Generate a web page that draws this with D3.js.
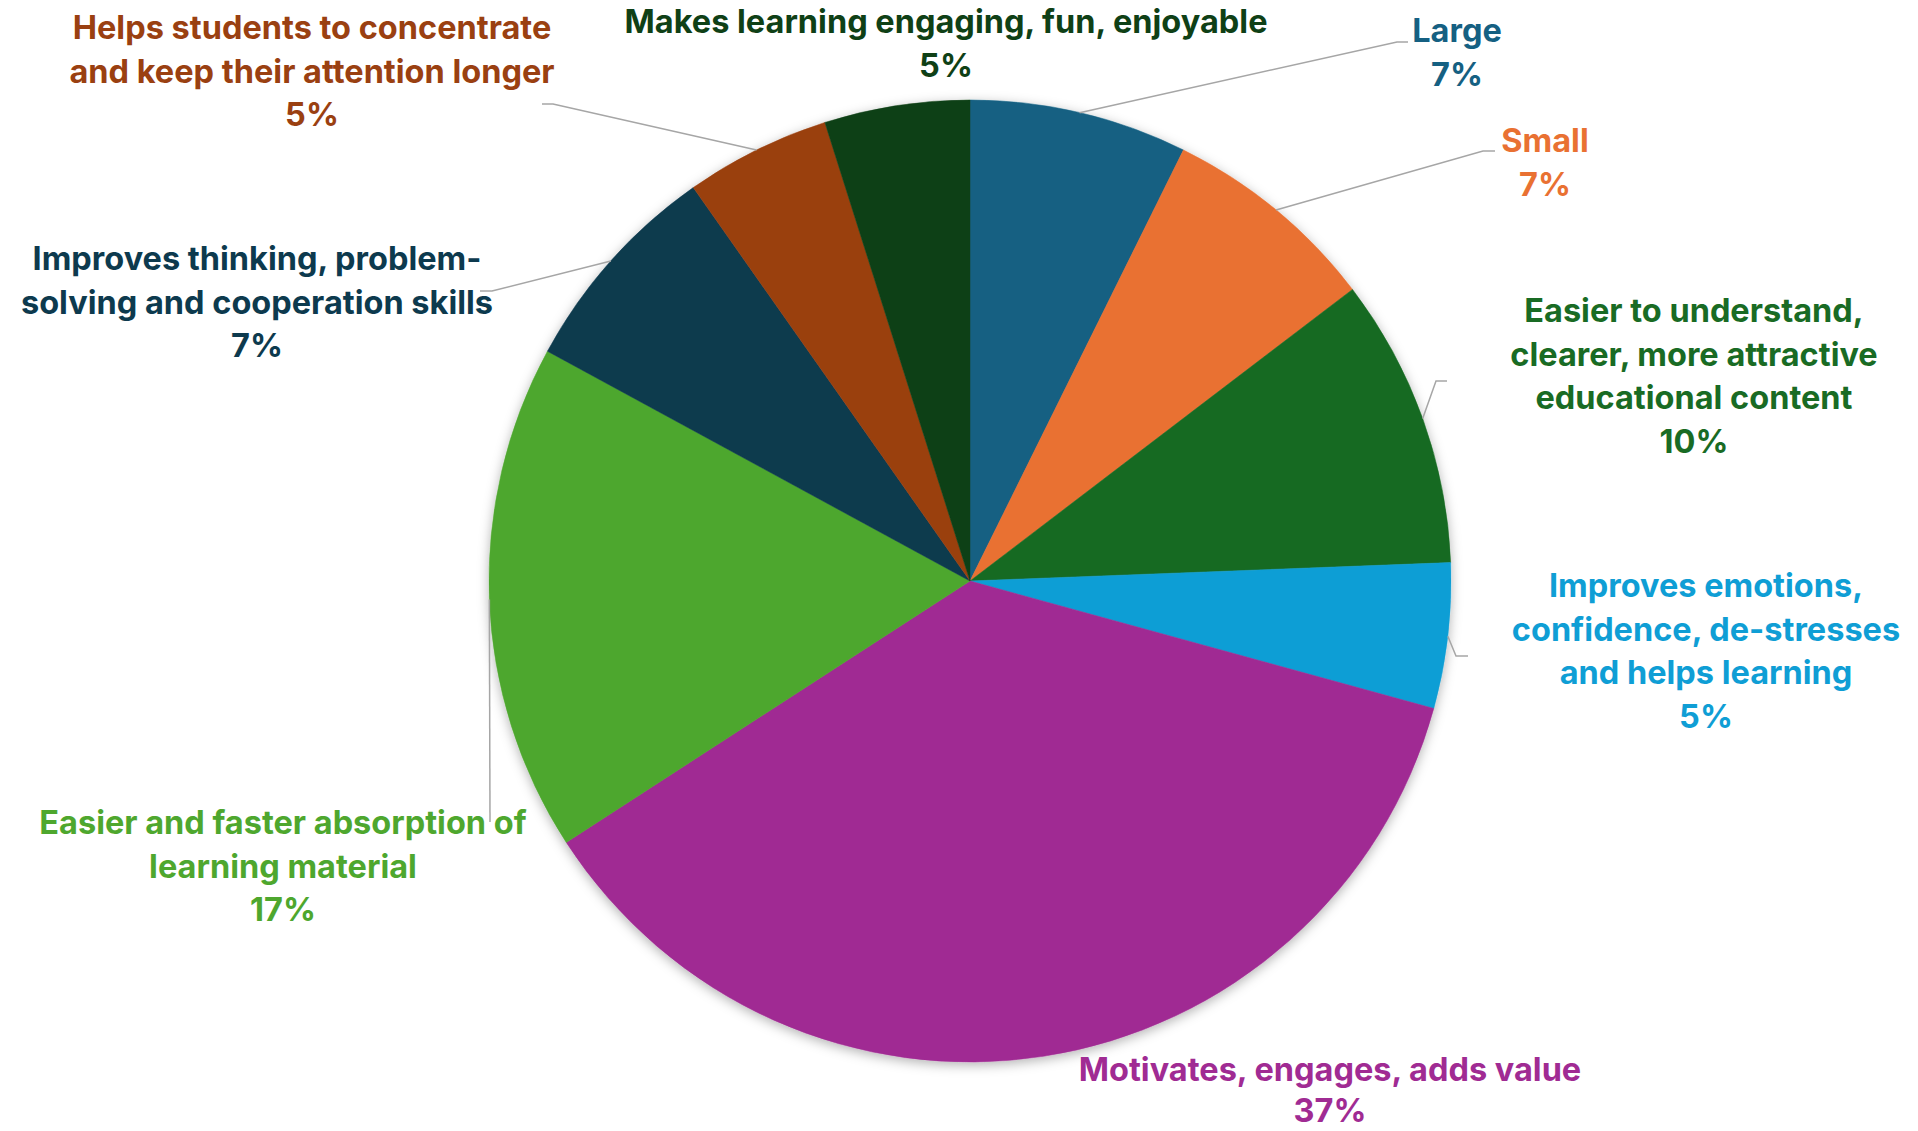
<!DOCTYPE html>
<html>
<head>
<meta charset="utf-8">
<script src="https://cdn.jsdelivr.net/npm/d3@7"></script>
<style>
  html, body { margin: 0; padding: 0; background: #ffffff; }
  svg { display: block; }
  .lbl { font-family: Inter, "Open Sans", sans-serif; font-weight: 700; font-size: 32.5px; }
</style>
</head>
<body>
<svg id="chart" width="1918" height="1131"></svg>
<script>
// Survey answers (number of mentions) in clockwise order from 12 o'clock
const categories = [
  "Large",
  "Small",
  "Easier to understand, clearer, more attractive educational content",
  "Improves emotions, confidence, de-stresses and helps learning",
  "Motivates, engages, adds value",
  "Easier and faster absorption of learning material",
  "Improves thinking, problem-solving and cooperation skills",
  "Helps students to concentrate and keep their attention longer",
  "Makes learning engaging, fun, enjoyable"
];
const counts = [3, 3, 4, 2, 15, 7, 3, 2, 2];

// Wrapped label text, one array of lines per category
const labelLines = [
  ["Large"],
  ["Small"],
  ["Easier to understand,", "clearer, more attractive", "educational content"],
  ["Improves emotions,", "confidence, de-stresses", "and helps learning"],
  ["Motivates, engages, adds value"],
  ["Easier and faster absorption of", "learning material"],
  ["Improves thinking, problem-", "solving and cooperation skills"],
  ["Helps students to concentrate", "and keep their attention longer"],
  ["Makes learning engaging, fun, enjoyable"]
];

// Slice / label colours (Office accent palette and its darker shades)
const palette = ["#156082", "#E97132", "#196B24", "#0F9ED5", "#A02B93",
                 "#4EA72E", "#0D3A4E", "#9A4011", "#0F4016"];

// Label placement: text centre x, first baseline y, and leader path (elbow, end)
const labelLayout = [
  { x: 1457, y: 42,  leader: [[1397, 42], [1408, 42]] },
  { x: 1545, y: 152, leader: [[1483, 151], [1495, 151]] },
  { x: 1694, y: 322, leader: [[1436, 381], [1447, 381]] },
  { x: 1706, y: 597, leader: [[1456, 656], [1468, 656]] },
  { x: 1330, y: 1081, leader: null, step: 41 },
  { x: 283,  y: 834, leader: [[490, 822]] },
  { x: 257,  y: 270, leader: [[492, 291], [480, 291]] },
  { x: 312,  y: 39,  leader: [[553, 104], [542, 104]] },
  { x: 946,  y: 33,  leader: null }
];

const cx = 970, cy = 581, radius = 481, lineStep = 43.5;

const svg = d3.select("#chart");
const defs = svg.append("defs");
const shadow = defs.append("filter").attr("id", "pieShadow")
  .attr("x", "-10%").attr("y", "-10%").attr("width", "120%").attr("height", "120%");
shadow.append("feDropShadow").attr("dx", 0).attr("dy", 3)
  .attr("stdDeviation", 6).attr("flood-color", "#000").attr("flood-opacity", 0.3);

const total = d3.sum(counts);
const pct = d3.format(".0%");

const pie = d3.pie().sort(null).value(d => d.count);
const arc = d3.arc().innerRadius(0).outerRadius(radius);

const data = categories.map((c, i) => ({ name: c, count: counts[i], i }));
const arcs = pie(data);

const g = svg.append("g").attr("transform", `translate(${cx},${cy})`);

g.append("g").attr("filter", "url(#pieShadow)")
  .selectAll("path").data(arcs).join("path")
  .attr("d", arc)
  .attr("fill", d => palette[d.data.i])
  .attr("stroke", d => palette[d.data.i])
  .attr("stroke-width", 0.5);

// Leader lines from the slice's mid-angle on the rim to the label
const leaders = svg.append("g").attr("fill", "none")
  .attr("stroke", "#A6A6A6").attr("stroke-width", 1.5);
arcs.forEach(a => {
  const lay = labelLayout[a.data.i];
  if (!lay.leader) return;
  const mid = (a.startAngle + a.endAngle) / 2;
  const start = [cx + radius * Math.sin(mid), cy - radius * Math.cos(mid)];
  leaders.append("path").attr("d", d3.line()([start, ...lay.leader]));
});

// Category labels with percentage on the last line
const labels = svg.append("g");
arcs.forEach(a => {
  const i = a.data.i, lay = labelLayout[i];
  const step = lay.step || lineStep;
  const lines = labelLines[i].concat([pct(a.data.count / total)]);
  const t = labels.append("text").attr("class", "lbl")
    .attr("text-anchor", "middle").attr("fill", palette[i]);
  lines.forEach((s, k) => {
    t.append("tspan").attr("x", lay.x).attr("y", lay.y + k * step).text(s);
  });
});
</script>
</body>
</html>
